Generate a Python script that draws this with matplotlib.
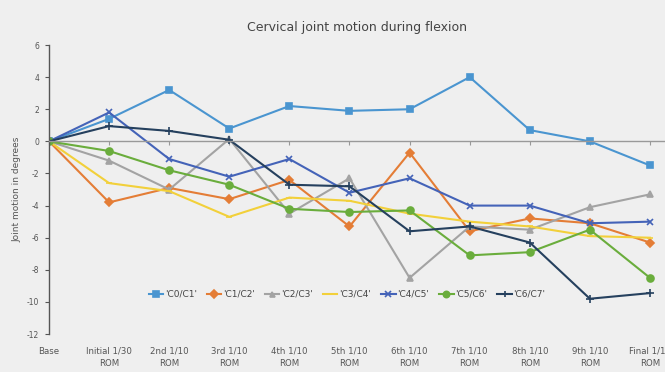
import matplotlib
matplotlib.use("Agg")
import matplotlib.pyplot as plt

categories = ["Base", "Initial 1/30\nROM", "2nd 1/10\nROM", "3rd 1/10\nROM", "4th 1/10\nROM",
              "5th 1/10\nROM", "6th 1/10\nROM", "7th 1/10\nROM", "8th 1/10\nROM",
              "9th 1/10\nROM", "Final 1/10\nROM"]

c0_c1 = [0, 1.4, 3.2, 0.8, 2.2, 1.9, 2.0, 4.0, 0.7, 0.0, -1.5]
c1_c2 = [0, -3.8, -2.9, -3.6, -2.4, -5.3, -0.7, -5.6, -4.8, -5.1, -6.3]
c2_c3 = [0, -1.2, -3.0, 0.15, -4.5, -2.3, -8.5, -5.3, -5.5, -4.1, -3.3]
c3_c4 = [0, -2.6, -3.1, -4.7, -3.5, -3.7, -4.5, -5.0, -5.3, -5.9, -6.0]
c4_c5 = [0, 1.8, -1.1, -2.2, -1.1, -3.2, -2.3, -4.0, -4.0, -5.1, -5.0]
c5_c6 = [0, -0.6, -1.8, -2.7, -4.2, -4.4, -4.3, -7.1, -6.9, -5.5, -8.5]
c6_c7 = [0, 0.95, 0.65, 0.1, -2.7, -2.8, -5.6, -5.3, -6.3, -9.8, -9.45]

series_names = ["'C0/C1'", "'C1/C2'", "'C2/C3'", "'C3/C4'", "'C4/C5'", "'C5/C6'", "'C6/C7'"]
series_values = [c0_c1, c1_c2, c2_c3, c3_c4, c4_c5, c5_c6, c6_c7]
yticks = list(range(-12, 7, 2))

styles = [
    dict(color="#4a95d0", marker="s", ms=5),
    dict(color="#e47d36", marker="D", ms=4),
    dict(color="#a3a3a3", marker="^", ms=4),
    dict(color="#f2d03a", marker="_", ms=4),
    dict(color="#4463b8", marker="x", ms=4.5),
    dict(color="#6aad3c", marker="o", ms=5),
    dict(color="#25405e", marker="+", ms=5.5),
]

bg = "#efefef"
fig = plt.figure(figsize=(6.65, 3.72), dpi=100, facecolor=bg)
ax = fig.add_axes([0.0737, 0.102, 0.9263, 0.777])
ax.set_facecolor(bg)

x = list(range(len(categories)))
for name, vals, st in zip(series_names, series_values, styles):
    ax.plot(x, vals, label=name, color=st["color"], lw=1.5, marker=st["marker"],
            ms=st["ms"], mec=st["color"], mfc=st["color"], mew=1.2)

ax.set_xlim(0, 10.25)
ax.set_ylim(-12, 6)
ax.set_yticks(yticks)
ax.set_yticklabels([str(v) for v in yticks])
ax.tick_params(axis="y", labelsize=5.5, colors="#555555", length=3, width=0.8, pad=4)

for s in ["top", "right"]:
    ax.spines[s].set_visible(False)
ax.spines["left"].set_color("#555555")
ax.spines["left"].set_linewidth(1.0)
ax.spines["bottom"].set_position(("data", 0))
ax.spines["bottom"].set_color("#999999")
ax.spines["bottom"].set_linewidth(1.0)
ax.set_xticks(x)
ax.tick_params(axis="x", labelbottom=False, length=3, colors="#999999", width=0.8)

sec = ax.secondary_xaxis("bottom")
sec.set_xticks(x)
sec.set_xticklabels(categories, linespacing=1.5)
sec.tick_params(axis="x", length=0, labelsize=6.2, labelcolor="#555555", pad=9)
for s in sec.spines.values():
    s.set_visible(False)

ax.set_ylabel("Joint motion in degrees", fontsize=6.5, color="#555555", labelpad=4)
ax.set_title("Cervical joint motion during flexion", fontsize=9, color="#444444", pad=10)

leg = ax.legend(loc="center", bbox_to_anchor=(0.484, 0.138), ncol=7, frameon=False,
                fontsize=6.5, handlelength=1.6, handletextpad=0.2, columnspacing=1.1,
                labelcolor="#444444", markerscale=0.9)

fig.savefig("out.png", dpi=100, facecolor=bg)
